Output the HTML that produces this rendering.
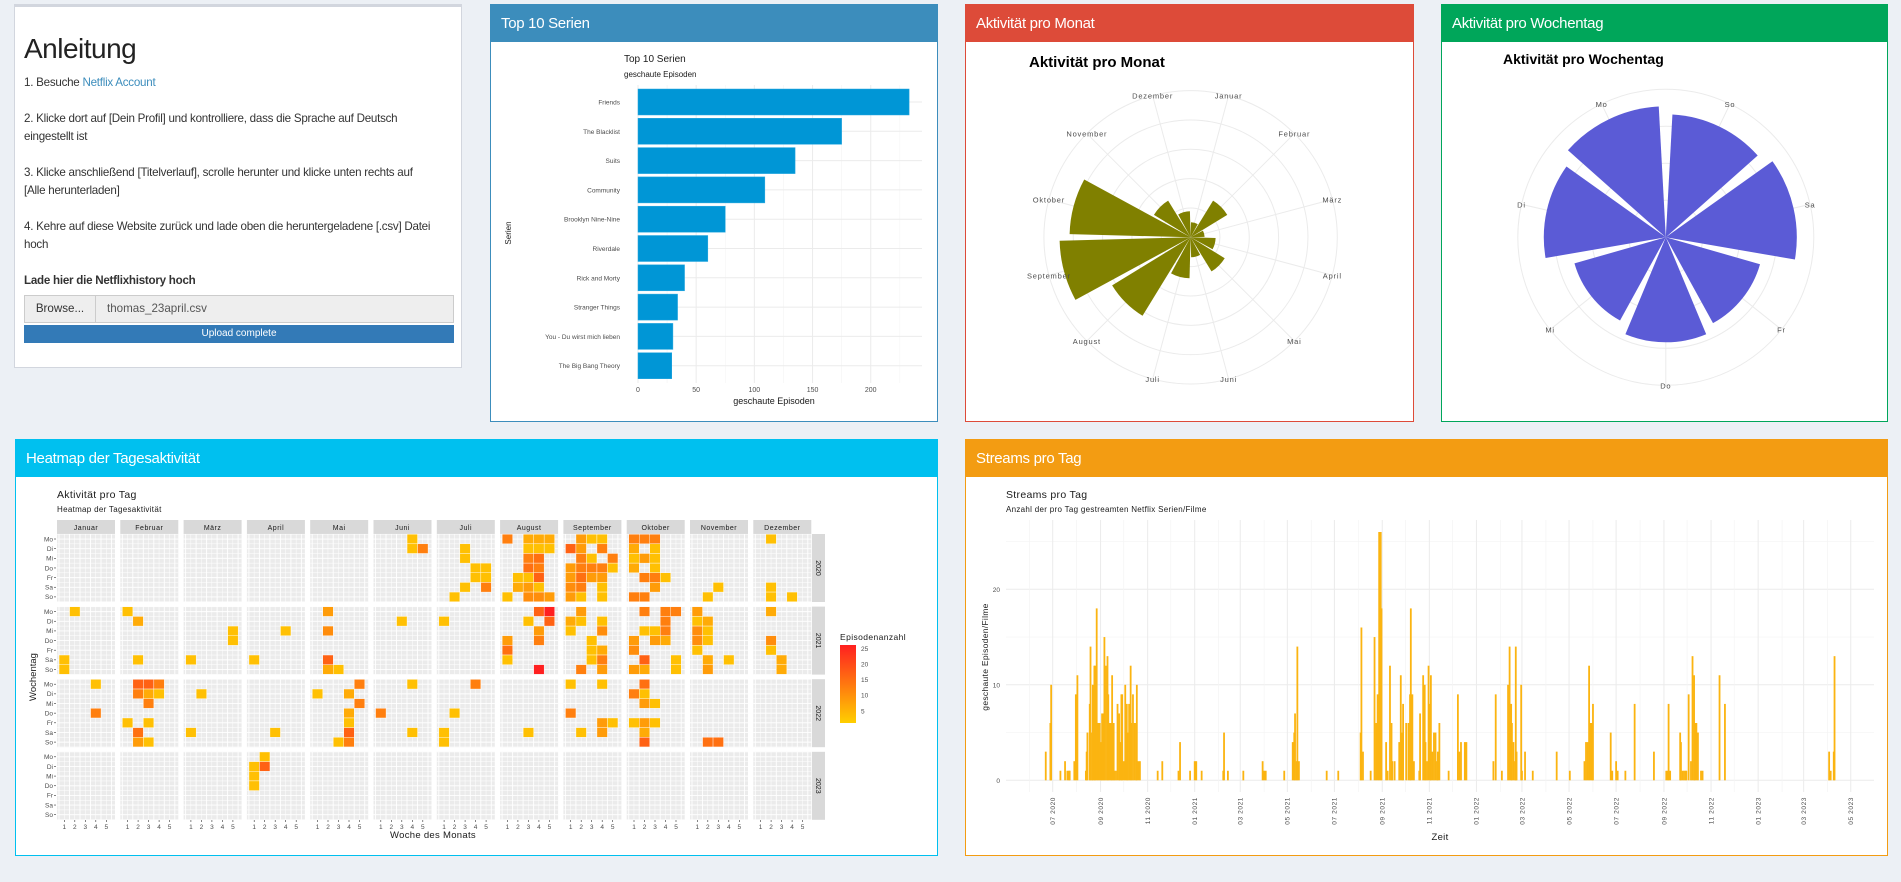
<!DOCTYPE html>
<html><head><meta charset="utf-8">
<style>
html,body{margin:0;padding:0;width:1901px;height:882px;overflow:hidden;background:#ecf0f5;font-family:"Liberation Sans",sans-serif;}
.box{position:absolute;background:#fff;box-sizing:border-box;border:1px solid;}
.hdr{position:absolute;left:0;top:0;right:0;height:37px;color:#fff;font-size:15px;line-height:37px;padding-left:10px;letter-spacing:-0.3px;}
#ov{position:absolute;left:0;top:0;}
.t{font-family:"Liberation Sans",sans-serif;}
</style></head><body>
<div class="box" style="left:14px;top:4px;width:448px;height:364px;border-color:#d2d6de;border-top:3px solid #d2d6de;">
 <div style="position:absolute;left:9px;top:26px;font-size:28px;color:#222;letter-spacing:-0.5px;">Anleitung</div>
 <div style="position:absolute;left:9px;top:67px;width:410px;font-size:11.6px;line-height:18px;color:#333;letter-spacing:-0.25px;">
  <div>1. Besuche <span style="color:#3c8dbc">Netflix Account</span></div>
  <div style="height:18px"></div>
  <div>2. Klicke dort auf [Dein Profil] und kontrolliere, dass die Sprache auf Deutsch eingestellt ist</div>
  <div style="height:18px"></div>
  <div>3. Klicke anschließend [Titelverlauf], scrolle herunter und klicke unten rechts auf [Alle herunterladen]</div>
  <div style="height:18px"></div>
  <div>4. Kehre auf diese Website zurück und lade oben die heruntergeladene [.csv] Datei hoch</div>
  <div style="height:18px"></div>
  <div style="font-weight:bold">Lade hier die Netflixhistory hoch</div>
 </div>
 <div style="position:absolute;left:9px;top:288px;width:430px;height:28px;border:1px solid #ccc;box-sizing:border-box;background:#eee;font-size:11.6px;">
  <div style="position:absolute;left:0;top:0;width:70px;height:26px;line-height:26px;text-align:center;border-right:1px solid #ccc;color:#333;background:#eee">Browse...</div>
  <div style="position:absolute;left:82px;top:0;line-height:26px;color:#555">thomas_23april.csv</div>
 </div>
 <div style="position:absolute;left:9px;top:318px;width:430px;height:18px;background:#337ab7;color:#fff;font-size:10px;line-height:18px;text-align:center;">Upload complete</div>
</div>
<div class="box" style="left:490px;top:4px;width:448px;height:418px;border-color:#3c8dbc;"><div class="hdr" style="background:#3c8dbc">Top 10 Serien</div></div>
<div class="box" style="left:965px;top:4px;width:449px;height:418px;border-color:#dd4b39;"><div class="hdr" style="background:#dd4b39">Aktivität pro Monat</div></div>
<div class="box" style="left:1441px;top:4px;width:447px;height:418px;border-color:#00a65a;"><div class="hdr" style="background:#00a65a">Aktivität pro Wochentag</div></div>
<div class="box" style="left:15px;top:439px;width:923px;height:417px;border-color:#00c0ef;"><div class="hdr" style="background:#00c0ef">Heatmap der Tagesaktivität</div></div>
<div class="box" style="left:965px;top:439px;width:923px;height:417px;border-color:#f39c12;"><div class="hdr" style="background:#f39c12">Streams pro Tag</div></div>

<svg id="ov" width="1901" height="882" xmlns="http://www.w3.org/2000/svg"></svg>
<script>
// ---------- Top 10 data ----------
const seriesNames = ["Friends","The Blacklist","Suits","Community","Brooklyn Nine-Nine","Riverdale","Rick and Morty","Stranger Things","You - Du wirst mich lieben","The Big Bang Theory"];
const seriesEpisodes = [233,175,135,109,75,60,40,34,30,29];
const top10Ticks = [0,50,100,150,200];
// ---------- Month polar data ----------
const monthNames = ["Januar","Februar","März","April","Mai","Juni","Juli","August","September","Oktober","November","Dezember"];
const monthValues = [45,129,42,75,120,60,123,276,393,363,129,78];
// ---------- Weekday polar data ----------
const weekdayNames = ["So","Sa","Fr","Do","Mi","Di","Mo"];
const weekdayValues = [492,524,392,420,380,488,524];
// ---------- Heatmap data: [month, week, weekday(0=Mo), episodes] ----------
const heatYears = [2020,2021,2022,2023];
const heatMonths = ["Januar","Februar","März","April","Mai","Juni","Juli","August","September","Oktober","November","Dezember"];
const heatDays = ["Mo","Di","Mi","Do","Fr","Sa","So"];
const legendTicks = [5,10,15,20,25];
const tiles2020 = [[6,4,0,3],[6,4,1,3],[6,5,1,12],[7,3,1,3],[7,3,2,3],[7,4,3,3],[7,5,3,3],[7,4,4,3],[7,5,4,3],[7,3,5,3],[7,5,5,12],[7,2,6,3],
[8,1,0,12],[8,3,0,6],[8,4,0,6],[8,5,0,6],[8,3,1,3],[8,4,1,3],[8,5,1,3],[8,3,2,12],[8,4,2,14],[8,3,3,14],[8,4,3,12],[8,2,4,3],[8,3,4,3],[8,4,4,16],[8,2,5,6],[8,3,5,8],[8,4,5,3],[8,1,6,3],[8,3,6,10],[8,4,6,10],[8,5,6,8],
[9,2,0,8],[9,3,0,3],[9,4,0,3],[9,1,1,16],[9,2,1,8],[9,4,1,12],[9,2,2,12],[9,3,2,3],[9,5,2,12],[9,1,3,8],[9,2,3,12],[9,3,3,12],[9,4,3,12],[9,5,3,3],[9,1,4,8],[9,2,4,14],[9,3,4,8],[9,4,4,8],[9,1,5,10],[9,2,5,12],[9,4,5,3],[9,1,6,8],[9,2,6,3],[9,4,6,3],
[10,1,0,12],[10,2,0,12],[10,3,0,12],[10,1,1,6],[10,3,1,3],[10,1,2,3],[10,2,2,8],[10,3,2,3],[10,1,3,6],[10,3,3,3],[10,2,4,12],[10,3,4,12],[10,4,4,3],[10,3,5,8],[10,1,6,12],[10,2,6,12],
[11,3,5,3],[11,2,6,3],[12,2,0,3],[12,2,5,3],[12,2,6,3],[12,4,6,3]];
const tiles2021 = [[1,2,0,3],[1,1,5,3],[1,1,6,3],[2,1,0,3],[2,2,1,6],[2,2,5,3],[3,5,2,3],[3,5,3,3],[3,1,5,3],[4,4,2,3],[4,1,5,3],
[5,2,0,8],[5,2,2,10],[5,2,5,16],[5,2,6,6],[5,3,6,3],[6,3,1,3],[7,1,1,3],
[8,4,0,16],[8,5,0,25],[8,3,1,3],[8,5,1,16],[8,4,2,8],[8,1,3,8],[8,4,3,12],[8,1,4,14],[8,1,5,3],[8,4,6,25],
[9,2,0,8],[9,1,1,6],[9,2,1,3],[9,4,1,3],[9,1,2,3],[9,4,2,10],[9,3,3,3],[9,3,4,3],[9,4,4,6],[9,3,5,3],[9,4,5,12],[9,2,6,12],[9,4,6,8],
[10,2,0,12],[10,4,0,12],[10,5,0,12],[10,4,1,12],[10,2,2,3],[10,3,2,3],[10,4,2,12],[10,1,3,8],[10,3,3,8],[10,4,3,6],[10,1,4,10],[10,2,5,16],[10,5,5,3],[10,1,6,8],[10,2,6,6],[10,5,6,3],
[11,1,0,8],[11,1,1,3],[11,2,1,6],[11,1,2,10],[11,2,2,3],[11,1,3,10],[11,2,3,3],[11,1,4,3],[11,2,5,6],[11,4,5,3],[11,2,6,8],
[12,2,0,6],[12,2,3,10],[12,2,4,3],[12,3,5,6],[12,3,6,6]];
const tiles2022 = [[1,4,0,3],[1,4,3,12],[2,2,0,16],[2,3,0,16],[2,4,0,12],[2,2,1,12],[2,3,1,6],[2,4,1,3],[2,3,2,12],[2,1,4,3],[2,3,4,3],[2,2,5,14],[2,2,6,8],[2,3,6,3],
[3,2,1,3],[3,1,5,3],[4,3,5,3],[5,5,0,12],[5,1,1,3],[5,4,1,6],[5,5,2,12],[5,4,3,6],[5,4,4,3],[5,4,5,16],[5,3,6,3],[5,4,6,12],
[6,4,0,3],[6,1,3,12],[6,4,5,3],[7,4,0,12],[7,2,3,3],[7,1,5,3],[7,1,6,3],[8,3,5,3],
[9,1,0,3],[9,4,0,3],[9,1,3,12],[9,4,4,8],[9,5,4,3],[9,2,5,3],[9,4,5,8],
[10,2,0,14],[10,1,1,12],[10,2,1,3],[10,2,2,8],[10,3,2,3],[10,1,4,3],[10,2,4,8],[10,3,4,3],[10,2,5,6],[10,2,6,16],[11,2,6,14],[11,3,6,14]];
const tiles2023 = [[4,2,0,3],[4,1,1,3],[4,2,1,16],[4,1,2,3],[4,1,3,3]];
// ---------- Streams data (day offset from 2020-07-01, count) ----------
const streamDay = [-9,-3,-2,10,16,19,21,22,28,30,32,43,44,45,48,49,51,52,54,55,57,59,61,63,64,66,67,69,71,72,74,76,77,79,80,82,84,86,87,89,90,92,94,96,97,99,101,102,104,106,108,109,111,113,136,142,163,165,178,184,186,193,221,222,227,247,272,274,276,300,311,313,314,316,317,319,355,370,399,400,402,412,417,419,421,423,425,426,432,434,437,439,440,443,449,451,453,454,458,461,463,464,466,468,475,476,480,482,483,485,487,489,490,492,494,496,498,499,501,513,525,527,529,534,536,571,574,582,590,592,594,595,597,599,600,601,607,608,612,622,653,670,689,691,693,695,697,699,700,723,725,730,732,742,754,779,795,797,798,800,813,814,816,818,820,821,824,827,829,831,832,834,836,840,842,864,871,1006,1008,1012,1013];
const streamCount = [3,6,10,1,2,1,1,1,2,9,11,1,3,5,8,14,5,10,12,12,18,6,6,4,7,7,15,12,13,9,6,6,11,6,1,1,8,7,4,9,9,2,10,8,5,8,12,6,9,6,6,10,2,2,1,2,1,4,1,2,2,1,1,5,1,1,2,1,1,1,4,5,7,2,14,2,1,1,5,16,3,1,15,6,9,26,26,18,4,1,12,6,2,2,4,11,5,8,6,6,9,18,9,2,1,7,11,10,4,2,12,8,11,3,5,5,2,3,6,1,9,3,4,4,4,2,9,1,10,14,8,6,4,2,14,3,10,1,3,1,3,1,2,4,4,12,6,6,8,5,1,2,1,1,8,3,1,1,8,1,5,4,1,1,1,1,9,2,13,11,6,6,5,1,1,11,8,3,1,3,13];
const streamYTicks = [0,10,20];

const NS="http://www.w3.org/2000/svg";
const svg=document.getElementById('ov');
function el(tag,attrs,parent,txt){const e=document.createElementNS(NS,tag);for(const k in attrs)e.setAttribute(k,attrs[k]);if(txt!==undefined)e.textContent=txt;(parent||svg).appendChild(e);return e;}
function grp(name){const g=el('g',{});return g;}

// ===== Top 10 bar chart =====
(function(){
 const g=grp('top10-chart');
 const x0=638, kx=1.1636, top=85, pitch=29.3, bh=26, plotR=922, plotB=383;
 const xs=v=>x0+v*kx;
 for(let v=25;v<=225;v+=50){el('line',{x1:xs(v),x2:xs(v),y1:top,y2:plotB,stroke:'#f4f4f4','stroke-width':0.6},g);}
 top10Ticks.forEach(v=>{el('line',{x1:xs(v),x2:xs(v),y1:top,y2:plotB,stroke:'#ebebeb','stroke-width':1},g);
  const t=el('text',{x:xs(v),y:392,'font-size':7,'text-anchor':'middle',fill:'#4d4d4d',class:'t'},g,String(v));
  });
 seriesNames.forEach((n,i)=>{const cy=top+4+i*pitch+bh/2;
  el('line',{x1:x0,x2:plotR,y1:cy,y2:cy,stroke:'#ebebeb','stroke-width':1},g);
 });
 seriesNames.forEach((n,i)=>{const y=top+4+i*pitch;
  const r=el('rect',{x:x0,y:y,width:seriesEpisodes[i]*kx,height:bh,fill:'#0096d6',stroke:'#2aa8e0','stroke-width':0.5},g);
  
  
  const t=el('text',{x:620,y:y+bh/2+2.5,'font-size':6.5,'text-anchor':'end',fill:'#4d4d4d',class:'t'},g,n);
  
 });
 let t=el('text',{x:624,y:62,'font-size':10,fill:'#1a1a1a',class:'t'},g,'Top 10 Serien');
 t=el('text',{x:624,y:77,'font-size':8,fill:'#1a1a1a',class:'t'},g,'geschaute Episoden');
 t=el('text',{x:774,y:404,'font-size':9,'text-anchor':'middle',fill:'#1a1a1a',class:'t'},g,'geschaute Episoden');
 t=el('text',{x:0,y:0,'font-size':8,'text-anchor':'middle',fill:'#1a1a1a',class:'t',transform:'translate(511,233) rotate(-90)'},g,'Serien');
})();

// ===== Polar helpers =====
function pt(cx,cy,r,a){const rad=a*Math.PI/180;return [cx+r*Math.sin(rad),cy-r*Math.cos(rad)];}
function wedge(cx,cy,r,a0,a1){const p0=pt(cx,cy,r,a0),p1=pt(cx,cy,r,a1);return `M${cx},${cy} L${p0[0]},${p0[1]} A${r},${r} 0 0 1 ${p1[0]},${p1[1]} Z`;}

// ===== Month polar =====
(function(){
 const g=grp('month-polar-chart');
 const cx=1190.6, cy=237.3, rMax=146.7, vMax=440, step=360/12;
 for(let k=1;k<=5;k++)el('circle',{cx:cx,cy:cy,r:k*rMax/5,fill:'none',stroke:'#ebebeb','stroke-width':1},g);
 monthNames.forEach((n,i)=>{const a=step*(i+0.5);const p=pt(cx,cy,rMax,a);el('line',{x1:cx,y1:cy,x2:p[0],y2:p[1],stroke:'#ebebeb','stroke-width':1},g);});
 monthNames.forEach((n,i)=>{const a=step*(i+0.5);const r=monthValues[i]/vMax*rMax;
  const w=el('path',{d:wedge(cx,cy,r,a-step*0.45,a+step*0.45),fill:'#808000'},g);
  
  const p=pt(cx,cy,rMax,a);
  const t=el('text',{x:p[0],y:p[1]+3,'font-size':7.5,'text-anchor':'middle',fill:'#4d4d4d','letter-spacing':0.8,class:'t'},g,n);
  
 });
 const t=el('text',{x:1029,y:67,'font-size':15,'font-weight':'bold',fill:'#000',class:'t'},g,'Aktivität pro Monat');
})();

// ===== Weekday polar =====
(function(){
 const g=grp('weekday-polar-chart');
 const cx=1665.8, cy=237.3, rMax=148, vMax=592, step=360/7;
 for(let k=1;k<=4;k++)el('circle',{cx:cx,cy:cy,r:k*rMax/4,fill:'none',stroke:'#ebebeb','stroke-width':1},g);
 weekdayNames.forEach((n,i)=>{const a=step*(i+0.5);const p=pt(cx,cy,rMax,a);el('line',{x1:cx,y1:cy,x2:p[0],y2:p[1],stroke:'#ebebeb','stroke-width':1},g);});
 weekdayNames.forEach((n,i)=>{const a=step*(i+0.5);const r=weekdayValues[i]/vMax*rMax;
  const w=el('path',{d:wedge(cx,cy,r,a-step*0.44,a+step*0.44),fill:'#5b5bd6'},g);
  
  const p=pt(cx,cy,rMax,a);
  const t=el('text',{x:p[0],y:p[1]+3,'font-size':7.5,'text-anchor':'middle',fill:'#4d4d4d','letter-spacing':0.8,class:'t'},g,n);
  
 });
 const t=el('text',{x:1503,y:64,'font-size':14,'font-weight':'bold',fill:'#000',class:'t'},g,'Aktivität pro Wochentag');
})();

// ===== Heatmap =====
(function(){
 const g=grp('heatmap-chart');
 const fx0=57, fpitch=63.3, fw=58, py0=534, ppitch=72.6, ph=68, cw=10.5, rh=9.65;
 const facetX=m=>fx0+(m-1)*fpitch;
 const panelY=yi=>py0+yi*ppitch;
 const cellX=(m,w)=>facetX(m)+7.3+(w-1)*cw;
 const cellY=(yi,d)=>panelY(yi)+5+d*rh;
 function col(v){const f=Math.max(0,Math.min(1,(v-1)/24));const gch=Math.round(207-f*175);const b=Math.round(f*32);return `rgb(255,${gch},${b})`;}
 let t=el('text',{x:57,y:498,'font-size':10.5,fill:'#1a1a1a',class:'t','letter-spacing':0.3},g,'Aktivität pro Tag');
 t=el('text',{x:57,y:512,'font-size':8,fill:'#1a1a1a',class:'t','letter-spacing':0.3},g,'Heatmap der Tagesaktivität');
 heatMonths.forEach((mn,mi)=>{const x=facetX(mi+1);
  el('rect',{x:x,y:520,width:fw,height:14,fill:'#d9d9d9'},g);
  const s=el('text',{x:x+fw/2,y:530,'font-size':7,'text-anchor':'middle',fill:'#1a1a1a','letter-spacing':0.5,class:'t'},g,mn);
  
  heatYears.forEach((yr,yi)=>{const y=panelY(yi);
   el('rect',{x:x,y:y,width:fw,height:ph,fill:'#ebebeb'},g);
   for(let k=0;k<=11;k++){const lx=x+2+k*cw/2;el('line',{x1:lx,x2:lx,y1:y,y2:y+ph,stroke:'#fff','stroke-width':k%2?0.5:0.9},g);}
   for(let k=0;k<=14;k++){const ly=y+0.2+k*rh/2;el('line',{x1:x,x2:x+fw,y1:ly,y2:ly,stroke:'#fff','stroke-width':k%2?0.9:0.5},g);}
  });
  for(let w=1;w<=5;w++){const cxp=cellX(mi+1,w);el('line',{x1:cxp,x2:cxp,y1:820,y2:822,stroke:'#333','stroke-width':0.6},g);
   const tk=el('text',{x:cxp,y:829,'font-size':6.5,'text-anchor':'middle',fill:'#4d4d4d',class:'t'},g,String(w));
   }
 });
 heatYears.forEach((yr,yi)=>{const y=panelY(yi);
  el('rect',{x:812,y:y,width:13,height:ph,fill:'#d9d9d9'},g);
  const s=el('text',{x:0,y:0,'font-size':7,'text-anchor':'middle',fill:'#1a1a1a',class:'t',transform:`translate(816,${y+ph/2}) rotate(90)`},g,String(yr));
  
  heatDays.forEach((dn,di)=>{const yy=cellY(yi,di);
   el('line',{x1:54,x2:56,y1:yy,y2:yy,stroke:'#333','stroke-width':0.6},g);
   const tl=el('text',{x:53,y:yy+2.3,'font-size':6.5,'text-anchor':'end',fill:'#4d4d4d',class:'t'},g,dn);
   });
 });
 [tiles2020,tiles2021,tiles2022,tiles2023].forEach((arr,yi)=>{arr.forEach(tt=>{
  const r=el('rect',{x:cellX(tt[0],tt[1])-cw/2,y:cellY(yi,tt[2])-rh/2,width:cw,height:rh,fill:col(tt[3]),stroke:'#fff','stroke-width':0.4},g);
  
 });});
 t=el('text',{x:433,y:838,'font-size':9.5,'text-anchor':'middle',fill:'#1a1a1a',class:'t','letter-spacing':0.3},g,'Woche des Monats');
 t=el('text',{x:0,y:0,'font-size':9.5,'text-anchor':'middle',fill:'#1a1a1a',class:'t',transform:'translate(36,677) rotate(-90)'},g,'Wochentag');
 // legend
 const lg=grp('heatmap-legend');
 t=el('text',{x:840,y:640,'font-size':8.5,fill:'#1a1a1a',class:'t','letter-spacing':0.4},lg,'Episodenanzahl');
 const defs=el('defs',{},lg);const gr=el('linearGradient',{id:'hg',x1:0,y1:1,x2:0,y2:0},defs);
 el('stop',{offset:'0','stop-color':'#ffcf00'},gr);el('stop',{offset:'1','stop-color':'#ff2020'},gr);
 const ly=v=>723-(v-1.1)*3.12;
 el('rect',{x:840,y:645,width:16,height:78,fill:'url(#hg)'},lg);
 legendTicks.forEach(v=>{const lt=el('text',{x:861,y:ly(v)+2.5,'font-size':6.5,fill:'#4d4d4d',class:'t'},lg,String(v));});
})();

// ===== Streams =====
(function(){
 const g=grp('streams-chart');
 const y0=780.3, ky=9.55, pl=1006, pr=1874, pt0=520, pb=792;
 const t0=Date.UTC(2020,6,1), x0=1052.7, kd=0.7718;
 const xd=d=>x0+d*kd;
 const xt=(yr,m)=>xd((Date.UTC(yr,m-1,1)-t0)/86400000);
 const ys=v=>y0-v*ky;
 for(let v=5;v<=25;v+=10)el('line',{x1:pl,x2:pr,y1:ys(v),y2:ys(v),stroke:'#f4f4f4','stroke-width':0.7},g);
 streamYTicks.forEach(v=>{el('line',{x1:pl,x2:pr,y1:ys(v),y2:ys(v),stroke:'#ebebeb','stroke-width':1},g);
  const tk=el('text',{x:1000,y:ys(v)+2.5,'font-size':6.5,'text-anchor':'end',fill:'#4d4d4d',class:'t'},g,String(v));});
 for(let i=0;i<36;i++){const yr=2020+Math.floor((5+i)/12), m=(5+i)%12+1;const x=xt(yr,m);if(x<pl||x>pr)continue;
  const major=(m%2===1);
  el('line',{x1:x,x2:x,y1:pt0,y2:pb,stroke:major?'#ebebeb':'#f4f4f4','stroke-width':major?1:0.7},g);
  if(major){const lab=(m<10?'0':'')+m+' '+yr;
   const tk=el('text',{x:0,y:0,'font-size':6.5,'text-anchor':'end',fill:'#4d4d4d','letter-spacing':0.6,class:'t',transform:`translate(${x+2.3},797) rotate(-90)`},g,lab);
   }
 }
 streamDay.forEach((d,i)=>{const v=streamCount[i];
  const b=el('rect',{x:xd(d)-0.9,y:ys(v),width:1.8,height:v*ky,fill:'#fbb411'},g);
  });
 let t=el('text',{x:1006,y:498,'font-size':10.5,fill:'#1a1a1a',class:'t','letter-spacing':0.3},g,'Streams pro Tag');
 t=el('text',{x:1006,y:512,'font-size':8,fill:'#1a1a1a',class:'t','letter-spacing':0.3},g,'Anzahl der pro Tag gestreamten Netflix Serien/Filme');
 t=el('text',{x:1440,y:840,'font-size':9.5,'text-anchor':'middle',fill:'#1a1a1a',class:'t','letter-spacing':0.3},g,'Zeit');
 t=el('text',{x:0,y:0,'font-size':8.5,'text-anchor':'middle',fill:'#1a1a1a',class:'t','letter-spacing':0.3,transform:'translate(988,657) rotate(-90)'},g,'geschaute Episoden/Filme');
})();
</script>
</body></html>
